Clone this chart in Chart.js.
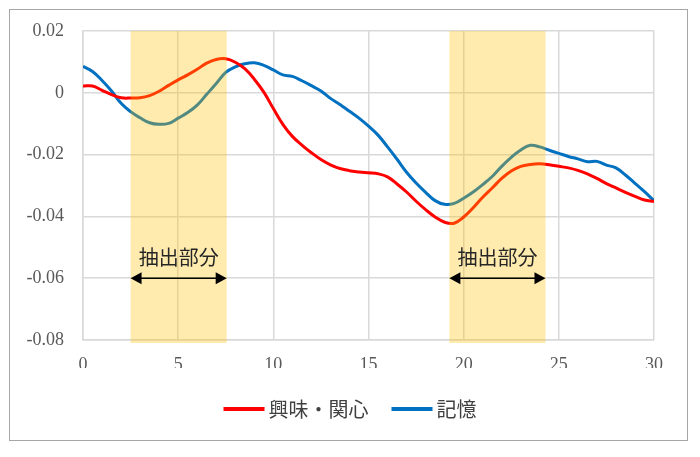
<!DOCTYPE html>
<html lang="ja">
<head>
  <meta charset="UTF-8" />
  <title>抽出部分</title>
  <script src="https://cdn.jsdelivr.net/npm/chart.js"></script>
  <style>
    body { margin: 0; background: #fff; }
    #wrap { position: relative; width: 700px; height: 457px; }
    #frame { position: absolute; left: 9px; top: 9px; width: 677px; height: 430px; border: 1px solid #a6a6a6; pointer-events: none; }
  </style>
</head>
<body>
  <div id="wrap">
    <canvas id="chart" width="700" height="457"></canvas>
    <div id="frame"></div>
  </div>

  <script>
    // x positions (every 0.5)
    const xValues = [];
    for (let i = 0; i <= 60; i++) xValues.push(i / 2);

    const interest = [
      0.0022, 0.0022, 0.0008, -0.0006, -0.0016, -0.0017, -0.0016, -0.0009, 0.0005, 0.0024,
      0.0042, 0.0058, 0.0076, 0.0096, 0.0108, 0.0110, 0.0099, 0.0078, 0.0044, 0.0002,
      -0.0051, -0.0102, -0.0141, -0.0169, -0.0194, -0.0216, -0.0233, -0.0245, -0.0252, -0.0256,
      -0.0259, -0.0262, -0.0272, -0.0295, -0.0321, -0.0351, -0.0378, -0.0402, -0.0419, -0.0422,
      -0.0402, -0.0372, -0.0338, -0.0308, -0.0277, -0.0253, -0.0238, -0.0232, -0.0230, -0.0233,
      -0.0238, -0.0243, -0.0251, -0.0262, -0.0277, -0.0294, -0.0308, -0.0322, -0.0335, -0.0347,
      -0.0352
    ];
    const memory = [
      0.0086, 0.0069, 0.0040, 0.0006, -0.0034, -0.0061, -0.0081, -0.0097, -0.0102, -0.0099,
      -0.0082, -0.0064, -0.0040, -0.0005, 0.0030, 0.0066, 0.0084, 0.0094, 0.0097, 0.0089,
      0.0074, 0.0058, 0.0053, 0.0039, 0.0023, 0.0006, -0.0018, -0.0038, -0.0060, -0.0082,
      -0.0108, -0.0137, -0.0175, -0.0215, -0.0257, -0.0292, -0.0322, -0.0349, -0.0361, -0.0358,
      -0.0341, -0.0321, -0.0297, -0.0271, -0.0238, -0.0209, -0.0185, -0.0170, -0.0175, -0.0186,
      -0.0196, -0.0206, -0.0214, -0.0223, -0.0222, -0.0234, -0.0243, -0.0266, -0.0293, -0.0320,
      -0.0349
    ];

    const seriesNames = ["興味・関心", "記憶"];
    const seriesColors = ["#ff0000", "#0070c0"];
    const shadeStart = [2.5, 19.25];
    const shadeEnd = [7.55, 24.3];
    const shadeLabel = "抽出部分";
    const arrowLevel = -0.06;

    const toPoints = ys => ys.map((y, i) => ({ x: xValues[i], y: y }));

    // yellow bands drawn over the lines, then the arrows and labels
    const bandPlugin = {
      id: "bands",
      afterDatasetsDraw(chart) {
        const { ctx, chartArea, scales: { x, y } } = chart;
        ctx.save();
        ctx.fillStyle = "rgba(255, 192, 0, 0.32)";
        for (let i = 0; i < shadeStart.length; i++) {
          const x0 = x.getPixelForValue(shadeStart[i]);
          const x1 = x.getPixelForValue(shadeEnd[i]);
          ctx.fillRect(x0, chartArea.top, x1 - x0, chartArea.bottom - chartArea.top + 3);
        }

        ctx.strokeStyle = "#000";
        ctx.lineWidth = 1.5;
        const ay = y.getPixelForValue(arrowLevel);
        for (let i = 0; i < shadeStart.length; i++) {
          const x0 = x.getPixelForValue(shadeStart[i]);
          const x1 = x.getPixelForValue(shadeEnd[i]);
          ctx.fillStyle = "#000";
          ctx.beginPath();
          ctx.moveTo(x0 + 8, ay);
          ctx.lineTo(x1 - 8, ay);
          ctx.stroke();
          ctx.beginPath();
          ctx.moveTo(x0, ay);
          ctx.lineTo(x0 + 11, ay - 6);
          ctx.lineTo(x0 + 11, ay + 6);
          ctx.closePath();
          ctx.fill();
          ctx.beginPath();
          ctx.moveTo(x1, ay);
          ctx.lineTo(x1 - 11, ay - 6);
          ctx.lineTo(x1 - 11, ay + 6);
          ctx.closePath();
          ctx.fill();

          ctx.font = '20px "Noto Sans CJK JP"';
          ctx.textAlign = "center";
          ctx.textBaseline = "middle";
          ctx.fillStyle = "#262626";
          ctx.fillText(shadeLabel, (x0 + x1) / 2, ay - 21);
        }
        ctx.restore();
      },
      // legend: line sample + name, centred under the whole frame
      afterDraw(chart) {
        const { ctx } = chart;
        ctx.save();
        ctx.font = '20px "Noto Sans CJK JP"';
        ctx.textBaseline = "middle";
        ctx.textAlign = "left";
        const sample = 41, gap = 4, spacing = 23;
        const widths = seriesNames.map(n => sample + gap + ctx.measureText(n).width);
        const total = widths.reduce((a, b) => a + b, 0) + spacing * (seriesNames.length - 1);
        let lx = 350 - total / 2;
        const ly = 409;
        seriesNames.forEach((name, i) => {
          ctx.fillStyle = seriesColors[i];
          ctx.fillRect(lx, ly - 2, sample, 4);
          ctx.fillStyle = "#404040";
          ctx.fillText(name, lx + sample + gap, ly);
          lx += widths[i] + spacing;
        });
        ctx.restore();
      }
    };

    const ctx = document.getElementById("chart").getContext("2d");
    new Chart(ctx, {
      type: "line",
      data: {
        datasets: [
          {
            label: seriesNames[0],
            data: toPoints(interest),
            borderColor: seriesColors[0],
            borderWidth: 3,
            pointRadius: 0,
            tension: 0.4
          },
          {
            label: seriesNames[1],
            data: toPoints(memory),
            borderColor: seriesColors[1],
            borderWidth: 3,
            pointRadius: 0,
            tension: 0.4
          }
        ]
      },
      options: {
        responsive: false,
        animation: false,
        layout: { padding: { top: 31, right: 46, bottom: 89, left: 0 } },
        scales: {
          x: {
            type: "linear",
            min: 0,
            max: 30,
            ticks: { stepSize: 5, padding: 14, color: "#595959", font: { family: "Liberation Serif", size: 18 } },
            grid: { color: "#d9d9d9", lineWidth: 1.5, drawTicks: false },
            border: { color: "#d9d9d9", width: 1.5 },
            afterFit: s => { s.height = 28; }
          },
          y: {
            min: -0.08,
            max: 0.02,
            ticks: {
              stepSize: 0.02,
              padding: 19,
              color: "#595959",
              font: { family: "Liberation Serif", size: 18 },
              callback: v => String(Number(v.toFixed(2)))
            },
            grid: { color: "#d9d9d9", lineWidth: 1.5, drawTicks: false },
            border: { color: "#d9d9d9", width: 1.5 },
            afterFit: s => { s.width = 83; }
          }
        },
        plugins: {
          legend: { display: false },
          tooltip: { enabled: false }
        }
      },
      plugins: [bandPlugin]
    });
  </script>
</body>
</html>
